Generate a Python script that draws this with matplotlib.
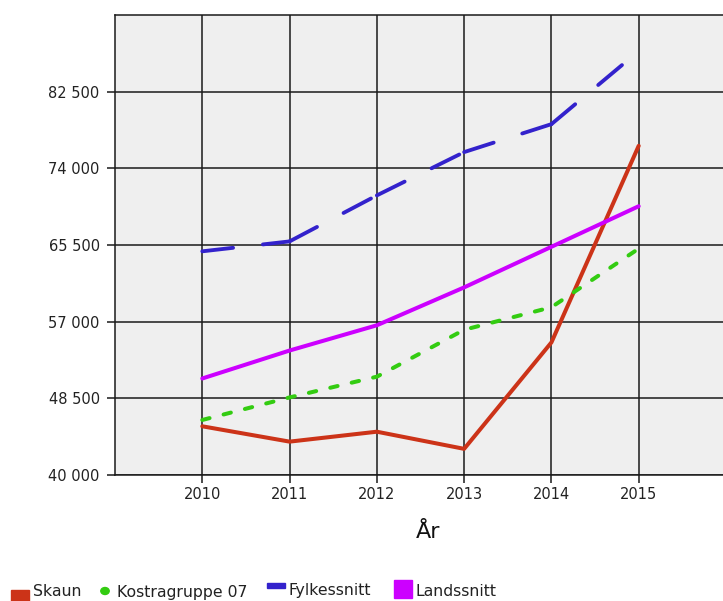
import matplotlib
matplotlib.use("Agg")
import matplotlib.pyplot as plt
from matplotlib.patches import Rectangle, Circle
from matplotlib.ticker import FuncFormatter

years = [2010, 2011, 2012, 2013, 2014, 2015]
series_names = ["Skaun", "Kostragruppe 07", "Fylkessnitt", "Landssnitt"]
skaun = [45400, 43700, 44800, 42900, 54700, 76500]
kostragruppe = [46100, 48600, 50900, 56100, 58600, 65100]
fylkessnitt = [64800, 65900, 71000, 75800, 78900, 87000]
landssnitt = [50700, 53800, 56600, 60800, 65300, 69800]
y_ticks = [40000, 48500, 57000, 65500, 74000, 82500]
x_label = "År"

colors = ["#cc3318", "#33cc11", "#3322cc", "#cc00ff"]

plt.rcParams["font.family"] = ["DejaVu Sans"]
plt.rcParams["lines.scale_dashes"] = False

W, H = 723, 601
fig = plt.figure(figsize=(W / 100, H / 100), dpi=100)
ax = fig.add_axes([115 / W, 1 - 475 / H, (726 - 115) / W, (475 - 15) / H])
ax.set_facecolor("#efefef")

ax.set_xlim(2009, 2016)
ax.set_ylim(40000, 91000)
ax.set_xticks(years)
ax.set_yticks(y_ticks)
ax.yaxis.set_major_formatter(FuncFormatter(lambda v, p: f"{int(v):,}".replace(",", " ")))
ax.grid(True, color="#1a1a1a", linewidth=1.1)
ax.set_axisbelow(True)
for s in ["left", "top", "bottom", "right"]:
    ax.spines[s].set_color("#1a1a1a")
    ax.spines[s].set_linewidth(1.1)
ax.tick_params(axis="both", colors="#1a1a1a", width=1.1, length=5.5, labelsize=10.5,
               labelcolor="#222222")
ax.tick_params(axis="y", pad=5.5)
ax.tick_params(axis="x", pad=3)

lw = 2.9
px = 0.72  # points per pixel

# Skaun: solid
ax.plot(years, skaun, color=colors[0], lw=lw, solid_capstyle="round",
        solid_joinstyle="round", zorder=3)
# Kostragruppe 07: short dashes
ax.plot(years, kostragruppe, color=colors[1], lw=lw, dash_capstyle="round",
        dash_joinstyle="round", dashes=(7.5 * px, 14.5 * px), zorder=3)
# Fylkessnitt: long dashes, pattern restarting on each segment
for i in range(len(years) - 1):
    ax.plot(years[i:i + 2], fylkessnitt[i:i + 2], color=colors[2], lw=lw * 0.95,
            dash_capstyle="round", dashes=(31 * px, 30 * px), zorder=3)
# Landssnitt: solid
ax.plot(years, landssnitt, color=colors[3], lw=lw, solid_capstyle="round",
        solid_joinstyle="round", zorder=4)

ax.set_xlabel(x_label, fontsize=16, color="#111111")
ax.xaxis.set_label_coords(428 / W, 1 - 532 / H, transform=fig.transFigure)
ax.xaxis.label.set_va("center")

# Legend along the bottom edge
def fx(x):
    return x / W

def fy(y):
    return 1 - y / H

lfs = 11.3
fig.add_artist(Rectangle((fx(11), fy(608)), 18 / W, 18 / H, color=colors[0],
                         transform=fig.transFigure))
fig.text(fx(33), fy(592), series_names[0], fontsize=lfs, color="#222222",
         va="center", ha="left")
fig.add_artist(Circle((fx(105), fy(591)), 4.2 / W, color=colors[1],
                      transform=fig.transFigure))
fig.text(fx(117), fy(592), series_names[1], fontsize=lfs, color="#222222",
         va="center", ha="left")
fig.add_artist(Rectangle((fx(267), fy(588)), 18 / W, 5 / H, color=colors[2],
                         transform=fig.transFigure))
fig.text(fx(288), fy(591), series_names[2], fontsize=lfs, color="#222222",
         va="center", ha="left")
fig.add_artist(Rectangle((fx(394), fy(598)), 18 / W, 18 / H, color=colors[3],
                         transform=fig.transFigure))
fig.text(fx(416), fy(591), series_names[3], fontsize=lfs, color="#222222",
         va="center", ha="left")

fig.savefig("out.png", dpi=100, facecolor="white")
